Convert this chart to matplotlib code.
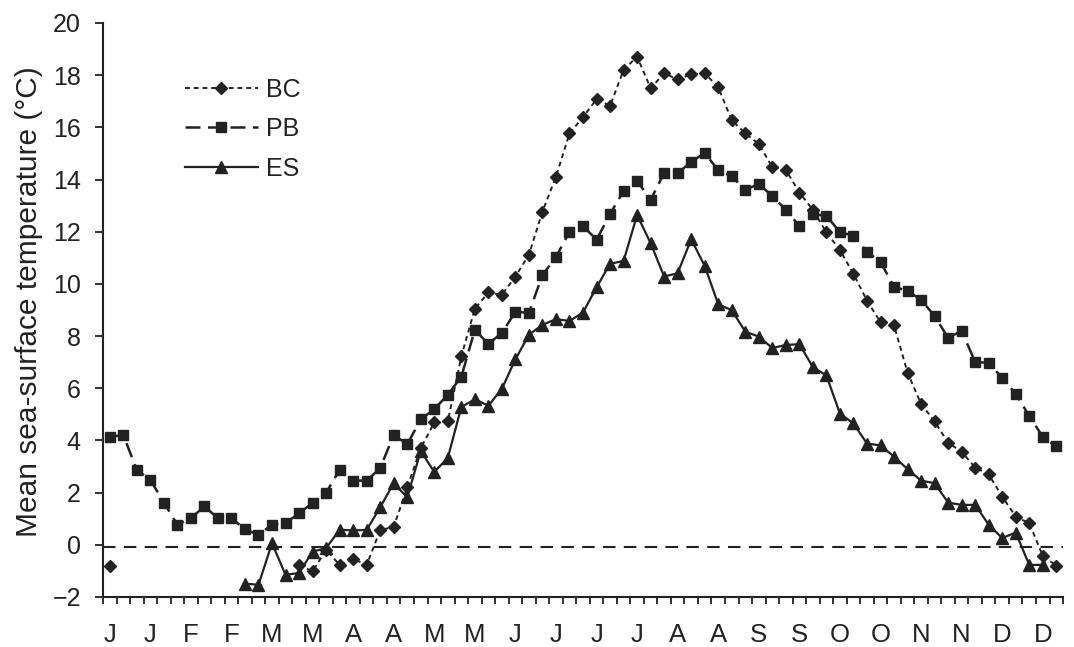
import numpy as np
import matplotlib
matplotlib.use("Agg")
import matplotlib.pyplot as plt
from matplotlib.ticker import FixedLocator

plt.rcParams['font.family'] = ['Liberation Sans', 'DejaVu Sans']

nan = np.nan

# half-month labels under every third period
month_labels = ['J', 'J', 'F', 'F', 'M', 'M', 'A', 'A', 'M', 'M', 'J', 'J',
                'J', 'J', 'A', 'A', 'S', 'S', 'O', 'O', 'N', 'N', 'D', 'D']

# mean sea-surface temperature per 5-day period (71 periods)
bc = [-0.83, nan, nan, nan, nan, nan, nan, nan, nan, nan,
      nan, nan, nan, nan, -0.77, -1.02, -0.19, -0.77, -0.54, -0.77,
      0.56, 0.69, 2.20, 3.70, 4.69, 4.73, 7.22, 9.05, 9.67, 9.58,
      10.28, 11.12, 12.77, 14.11, 15.77, 16.39, 17.08, 16.82, 18.20, 18.71,
      17.50, 18.07, 17.84, 18.03, 18.07, 17.54, 16.27, 15.77, 15.36, 14.47,
      14.37, 13.50, 12.84, 11.97, 11.30, 10.38, 9.36, 8.53, 8.41, 6.60,
      5.40, 4.73, 3.91, 3.57, 2.96, 2.70, 1.85, 1.08, 0.83, -0.42,
      -0.80]

pb = [4.13, 4.21, 2.87, 2.49, 1.62, 0.77, 1.02, 1.47, 1.02, 1.02,
      0.60, 0.38, 0.77, 0.83, 1.21, 1.60, 2.00, 2.87, 2.46, 2.46,
      2.94, 4.21, 3.85, 4.81, 5.20, 5.75, 6.44, 8.24, 7.70, 8.12,
      8.93, 8.89, 10.34, 11.03, 12.00, 12.22, 11.69, 12.68, 13.56, 13.95,
      13.22, 14.25, 14.25, 14.67, 15.02, 14.35, 14.12, 13.60, 13.83, 13.37,
      12.84, 12.22, 12.68, 12.60, 11.99, 11.84, 11.23, 10.84, 9.89, 9.73,
      9.39, 8.77, 7.93, 8.20, 7.01, 6.97, 6.40, 5.78, 4.94, 4.14,
      3.77]

es = [nan, nan, nan, nan, nan, nan, nan, nan, nan, nan,
      -1.49, -1.53, 0.06, -1.15, -1.08, -0.26, -0.13, 0.58, 0.55, 0.57,
      1.44, 2.36, 1.82, 3.60, 2.79, 3.33, 5.28, 5.58, 5.33, 5.98,
      7.11, 8.05, 8.43, 8.65, 8.58, 8.90, 9.87, 10.77, 10.88, 12.64,
      11.56, 10.28, 10.41, 11.71, 10.69, 9.22, 8.99, 8.17, 7.98, 7.54,
      7.66, 7.69, 6.81, 6.49, 5.03, 4.65, 3.88, 3.81, 3.38, 2.90,
      2.46, 2.36, 1.62, 1.53, 1.53, 0.77, 0.26, 0.47, -0.77, -0.77,
      nan]

ref_level = -0.08

ink = '#222222'
x = np.arange(len(pb))

fig = plt.figure(figsize=(10.74, 6.47), dpi=100)
ax = fig.add_axes([0.0959, 0.0773, 0.8939, 0.8872])

ax.axhline(ref_level, color=ink, lw=1.5, ls=(0, (6, 4)), zorder=1)

ax.plot(x, bc, color=ink, lw=1.4, ls=(0, (2.5, 2)), marker='D', ms=6,
        label='BC', zorder=3)
ax.plot(x, pb, color=ink, lw=1.8, ls=(0, (6, 3)), marker='s', ms=7.5,
        label='PB', zorder=3)
ax.plot(x, es, color=ink, lw=1.6, ls='-', marker='^', ms=8,
        label='ES', zorder=3)

ax.set_xlim(-0.5, len(pb) - 0.5)
ax.set_ylim(-2, 20)
ax.set_yticks(np.arange(-2, 21, 2))

# category boundaries carry the tick marks, labels sit on every third period
ax.xaxis.set_major_locator(FixedLocator(np.arange(0, len(pb), 3)))
ax.set_xticklabels(month_labels)
ax.xaxis.set_minor_locator(FixedLocator(np.arange(-0.5, len(pb), 1)))
ax.tick_params(axis='x', which='major', length=0, pad=19, labelsize=18.5,
               colors=ink)
ax.tick_params(axis='x', which='minor', length=5, width=1.3, direction='out',
               color=ink)
ax.tick_params(axis='y', length=6, width=1.3, direction='out', pad=10,
               labelsize=18, colors=ink)

for side in ('top', 'right'):
    ax.spines[side].set_visible(False)
for side in ('left', 'bottom'):
    ax.spines[side].set_linewidth(1.5)
    ax.spines[side].set_color(ink)

ax.set_ylabel('Mean sea-surface temperature (°C)', fontsize=21.5, color=ink)
ax.yaxis.set_label_coords(-0.062, 0.515)

leg = ax.legend(loc='upper left', bbox_to_anchor=(0.075, 0.922), frameon=False,
                fontsize=18, handlelength=2.9, handletextpad=0.35,
                labelspacing=0.62, borderaxespad=0)
for t in leg.get_texts():
    t.set_color(ink)

fig.savefig('out.png', dpi=100)
